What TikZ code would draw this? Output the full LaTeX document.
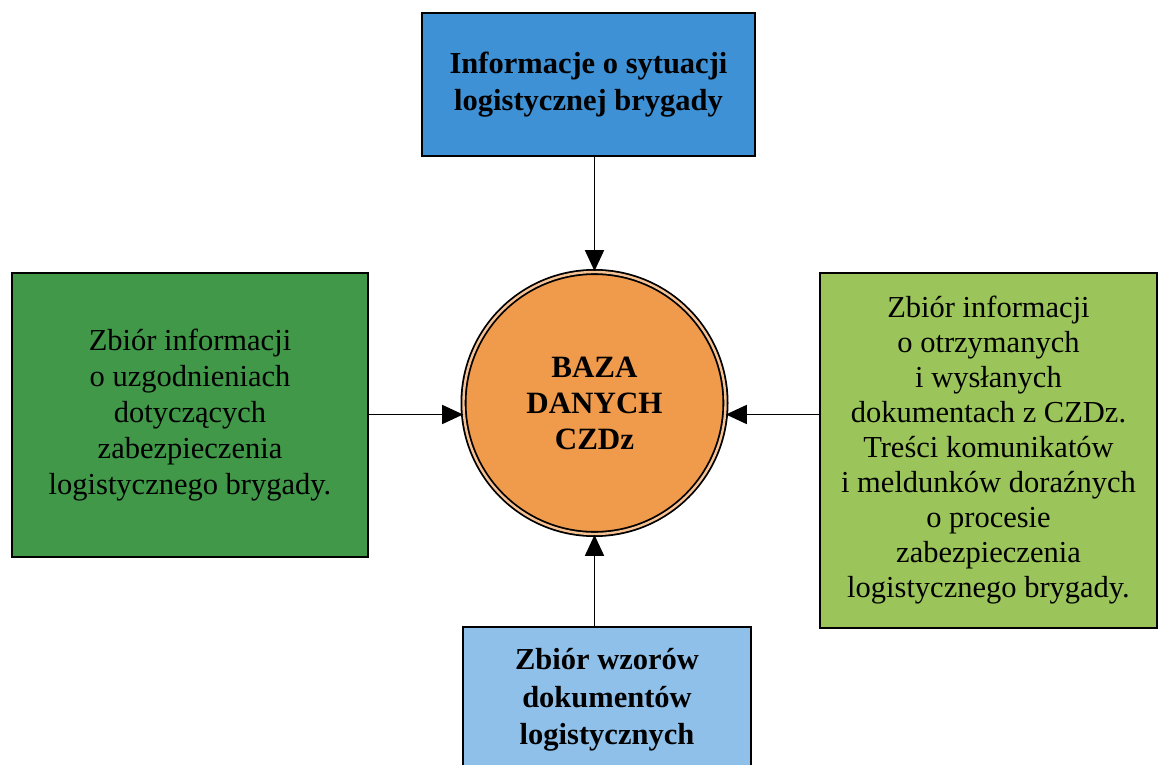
\documentclass[tikz,border=0pt]{standalone}
\usepackage{fontspec}
\setmainfont{Liberation Serif}
\usetikzlibrary{arrows.meta}

\definecolor{infoblue}{RGB}{62,145,212}
\definecolor{darkgreen}{RGB}{64,152,72}
\definecolor{lightgreen}{RGB}{155,197,90}
\definecolor{paleblue}{RGB}{143,192,234}
\definecolor{dborange}{RGB}{240,154,76}

\tikzset{
  box/.style={draw=black, line width=2pt, rectangle, align=center, inner sep=0pt,
    font=\fontsize{30.5}{36}\selectfont},
  boldbox/.style={box, font=\fontsize{30.5}{37.5}\selectfont\bfseries},
  arr/.style={line width=1.8pt, -{Triangle[length=21pt,width=19pt]}},
}

\begin{document}
\begin{tikzpicture}[x=1pt, y=-1pt]
  \clip (0,0) rectangle (1163,765);
  \fill[white] (0,0) rectangle (1163,765);

  % central database
  \node[circle, draw=black, line width=1.8pt, double=dborange!60!white, double distance=2.4pt,
        fill=dborange, minimum size=262pt, inner sep=0pt, align=center,
        font=\fontsize{31}{36}\selectfont\bfseries] (db) at (594.5,403)
        {BAZA\\DANYCH\\CZDz};

  % surrounding sources
  \node[boldbox, fill=infoblue, minimum width=333pt, minimum height=143pt] (top) at (588.5,84.5)
        {Informacje o sytuacji\\logistycznej brygady};
  \node[box, fill=darkgreen, minimum width=356pt, minimum height=284pt] (left) at (190,415)
        {Zbiór informacji\\o uzgodnieniach\\dotyczących\\zabezpieczenia\\logistycznego brygady.};
  \node[box, fill=lightgreen, minimum width=337pt, minimum height=355pt,
        font=\fontsize{30.5}{35}\selectfont] (right) at (988.5,450.5)
        {Zbiór informacji\\o otrzymanych\\i wysłanych\\dokumentach z CZDz.\\Treści komunikatów\\i meldunków doraźnych\\o procesie\\zabezpieczenia\\logistycznego brygady.};
  \node[boldbox, fill=paleblue, minimum width=288pt, minimum height=146pt] (bottom) at (607,700)
        {Zbiór wzorów\\dokumentów\\logistycznych};

  % flows into the database
  \draw[arr] (top.south -| db.north) -- (db.north);
  \draw[arr] (left.east |- db.185) -- (db.185);
  \draw[arr] (right.west |- db.355) -- (db.355);
  \draw[arr] (bottom.north -| db.south) -- (db.south);
\end{tikzpicture}
\end{document}
